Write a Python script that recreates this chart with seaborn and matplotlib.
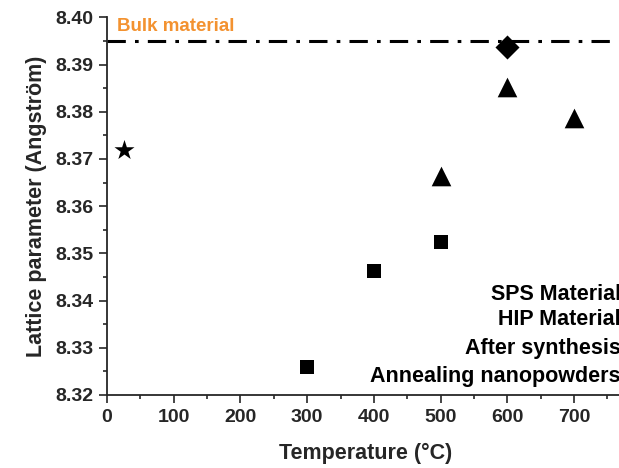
import matplotlib
matplotlib.use("Agg")
import matplotlib.pyplot as plt
import seaborn as sns
import pandas as pd
from matplotlib.ticker import MultipleLocator, FormatStrFormatter

sns.set_style("ticks")
plt.rcParams['font.family'] = ['Liberation Sans', 'DejaVu Sans']

# Data
sps_x = [600]
sps_y = [8.3938]
hip_x = [500, 600, 700]
hip_y = [8.3664, 8.3853, 8.3787]
synth_x = [25]
synth_y = [8.3719]
anneal_x = [300, 400, 500]
anneal_y = [8.3260, 8.3463, 8.3524]
bulk_value = 8.395
legend_labels = ["SPS Material", "HIP Material", "After synthesis", "Annealing nanopowders"]

df = pd.DataFrame({
    "T": sps_x + hip_x + synth_x + anneal_x,
    "a": sps_y + hip_y + synth_y + anneal_y,
    "group": (["SPS Material"] * len(sps_x) + ["HIP Material"] * len(hip_x)
              + ["After synthesis"] * len(synth_x) + ["Annealing nanopowders"] * len(anneal_x)),
})

fig = plt.figure(figsize=(6.19, 4.68), dpi=100)
ax = fig.add_axes([0.173, 0.156, 0.835, 0.807])

sizes = {"SPS Material": 150, "HIP Material": 200, "After synthesis": 230, "Annealing nanopowders": 110}
markers = {"SPS Material": "D", "HIP Material": "^", "After synthesis": "*", "Annealing nanopowders": "s"}
for g in legend_labels:
    sub = df[df["group"] == g]
    sns.scatterplot(data=sub, x="T", y="a", marker=markers[g], s=sizes[g],
                    color="black", edgecolor="black", linewidth=0, ax=ax, legend=False, zorder=3)

ax.axhline(bulk_value, color="black", linestyle=(0, (6, 3, 1.2, 3)), linewidth=2.2, zorder=2)
ax.text(0.02, 0.997, "Bulk material", transform=ax.transAxes, color="#F39230",
        fontsize=13.5, fontweight="bold", ha="left", va="top")

ax.set_xlim(0, 775)
ax.set_ylim(8.32, 8.40)
ax.xaxis.set_major_locator(MultipleLocator(100))
ax.xaxis.set_minor_locator(MultipleLocator(50))
ax.yaxis.set_major_locator(MultipleLocator(0.01))
ax.yaxis.set_minor_locator(MultipleLocator(0.005))
ax.yaxis.set_major_formatter(FormatStrFormatter("%.2f"))
ax.tick_params(which="major", direction="out", length=6, width=1.2, labelsize=14, pad=4)
ax.tick_params(which="minor", direction="out", length=3, width=1.2)
for lab in ax.get_xticklabels() + ax.get_yticklabels():
    lab.set_fontweight("bold")

ax.set_xlabel("Temperature (°C)", fontsize=15.5, fontweight="bold", labelpad=12)
ax.set_ylabel("Lattice parameter (Angström)", fontsize=15.5, fontweight="bold", labelpad=6)

for s in ["top", "right"]:
    ax.spines[s].set_visible(False)
for s in ["left", "bottom"]:
    ax.spines[s].set_linewidth(1.3)

ys = [0.265, 0.199, 0.124, 0.050]
for lab, yy in zip(legend_labels, ys):
    ax.text(0.994, yy, lab, transform=ax.transAxes, ha="right", va="center",
            fontsize=15.5, fontweight="bold", color="black")

fig.savefig("out.png", dpi=100)
